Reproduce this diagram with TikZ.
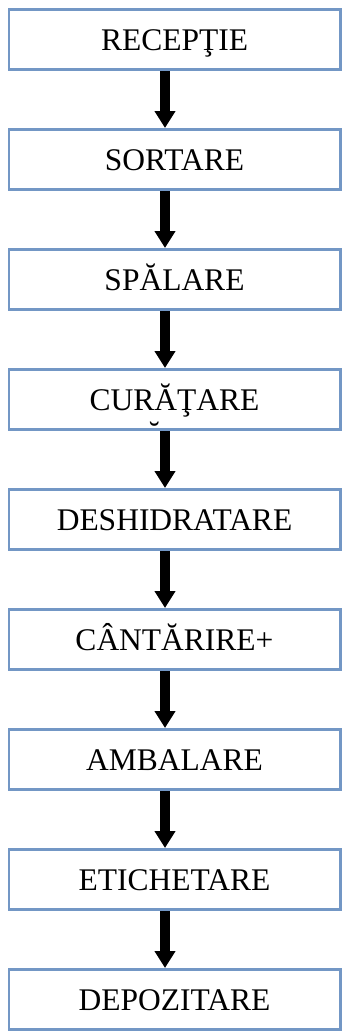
\documentclass[tikz,border=0pt]{standalone}
\usepackage{fontspec}
\setmainfont{Liberation Serif}
\usetikzlibrary{arrows.meta}
\definecolor{boxblue}{RGB}{115,151,197}
\tikzset{
  stepbox/.style={draw=boxblue, line width=2.7pt, fill=white,
    minimum width=331.3pt, minimum height=60.3pt, inner sep=0pt,
    text height=21pt, text depth=0pt,
    font=\fontsize{31.5}{36}\selectfont},
  flow/.style={line width=10pt, -{Triangle[width=20pt,length=17pt]}, black}
}
\begin{document}
\begin{tikzpicture}[x=1pt,y=-1pt]
\useasboundingbox (0,0) rectangle (344,1031);
\node[stepbox] (b1) at (174.5,39.5) {RECEPŢIE};
\node[stepbox] (b2) at (174.5,159.5) {SORTARE};
\node[stepbox] (b3) at (174.5,279.5) {SPĂLARE};
\node[stepbox] (b4) at (174.5,399.5) {CUR\makebox[0pt]{\raisebox{-1.05em}{˘}}ĂŢARE};
\node[stepbox] (b5) at (174.5,519.5) {DESHIDRATARE};
\node[stepbox] (b6) at (174.5,639.5) {CÂNTĂRIRE+};
\node[stepbox] (b7) at (174.5,759.5) {AMBALARE};
\node[stepbox] (b8) at (174.5,879.5) {ETICHETARE};
\node[stepbox] (b9) at (174.5,999.5) {DEPOZITARE};
\foreach \a/\b in {b1/b2,b2/b3,b3/b4,b4/b5,b5/b6,b6/b7,b7/b8,b8/b9}
  \draw[flow] ([xshift=-9.5pt]\a.south) -- ([xshift=-9.5pt]\b.north);
\end{tikzpicture}
\end{document}
